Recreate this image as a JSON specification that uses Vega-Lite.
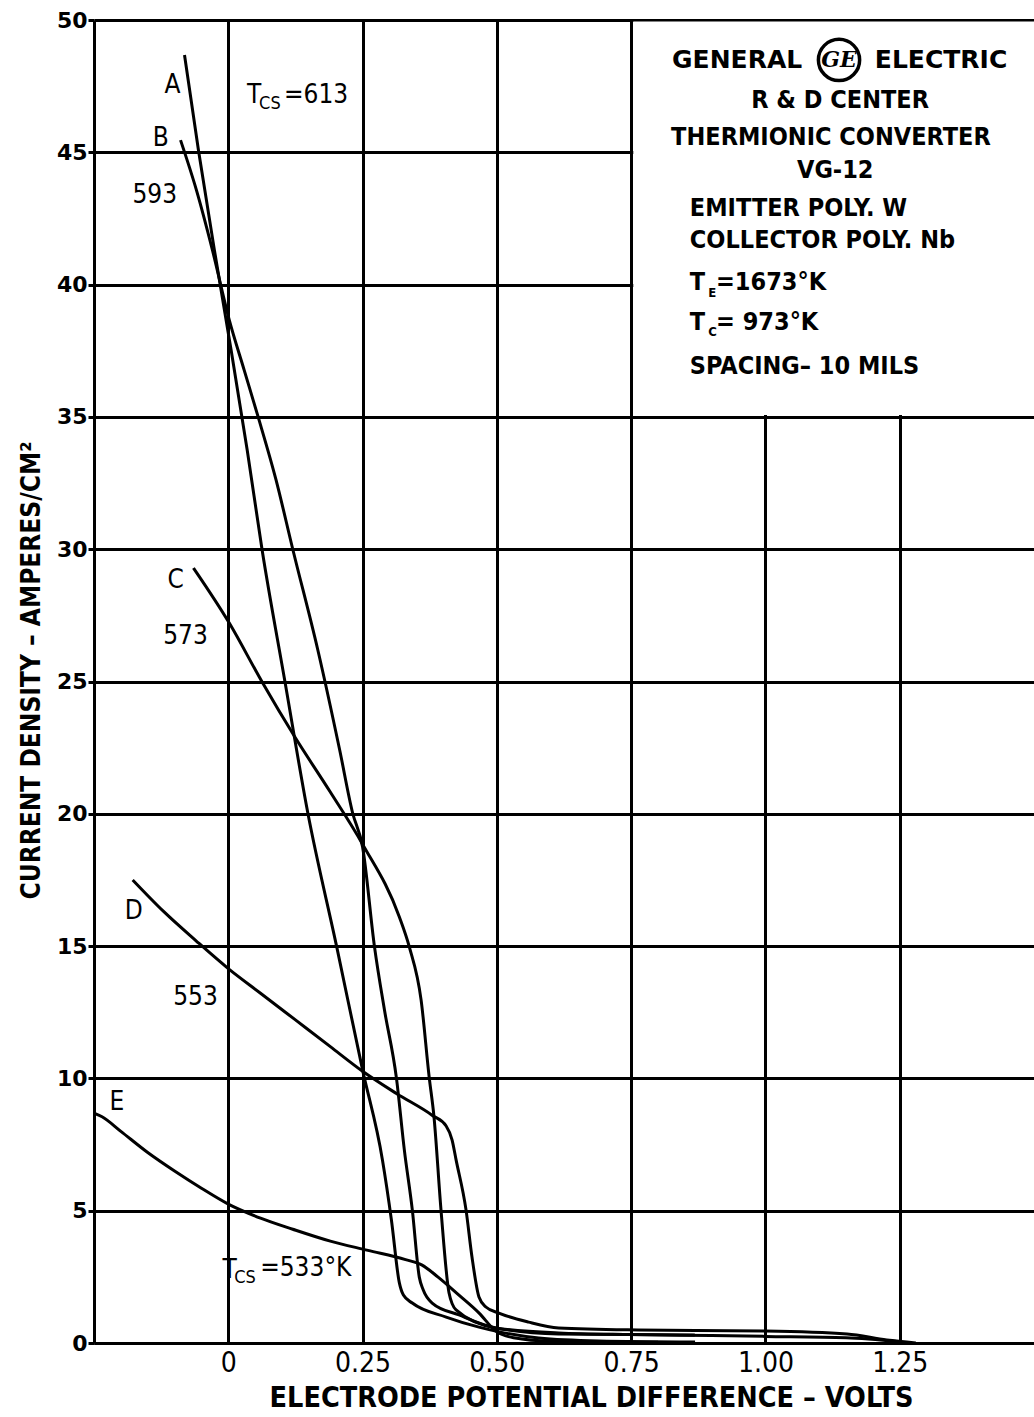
{
  "$schema": "https://vega.github.io/schema/vega-lite/v6.json",
  "width": 940,
  "height": 1323,
  "autosize": {"type": "none"},
  "padding": {"left": 94, "top": 20, "right": 0, "bottom": 74},
  "background": "white",
  "config": {"view": {"stroke": null}, "font": "DejaVu Sans Condensed"},
  "datasets": {
    "curves": [
      {"curve": "A", "v": -0.0815, "j": 48.68}, {"curve": "A", "v": -0.0556, "j": 45.09}, {"curve": "A", "v": -0.0259, "j": 41.31}, {"curve": "A", "v": 0.0037, "j": 37.72}, {"curve": "A", "v": 0.0352, "j": 33.75}, {"curve": "A", "v": 0.063, "j": 29.97}, {"curve": "A", "v": 0.1056, "j": 24.98}, {"curve": "A", "v": 0.1481, "j": 20.03}, {"curve": "A", "v": 0.2019, "j": 14.97}, {"curve": "A", "v": 0.25, "j": 10.32}, {"curve": "A", "v": 0.287, "j": 6.92}, {"curve": "A", "v": 0.3037, "j": 4.65}, {"curve": "A", "v": 0.3185, "j": 2.27}, {"curve": "A", "v": 0.326, "j": 1.81}, {"curve": "A", "v": 0.3426, "j": 1.51}, {"curve": "A", "v": 0.4056, "j": 0.98}, {"curve": "A", "v": 0.4667, "j": 0.6}, {"curve": "A", "v": 0.498, "j": 0.45}, {"curve": "A", "v": 0.578, "j": 0.19}, {"curve": "A", "v": 0.689, "j": 0.08}, {"curve": "A", "v": 0.869, "j": 0.04},
      {"curve": "B", "v": -0.0889, "j": 45.46}, {"curve": "B", "v": -0.0593, "j": 43.57}, {"curve": "B", "v": -0.0296, "j": 41.31}, {"curve": "B", "v": 0.0019, "j": 38.66}, {"curve": "B", "v": 0.0296, "j": 36.77}, {"curve": "B", "v": 0.0556, "j": 35.0}, {"curve": "B", "v": 0.0889, "j": 32.62}, {"curve": "B", "v": 0.1204, "j": 29.97}, {"curve": "B", "v": 0.1667, "j": 26.19}, {"curve": "B", "v": 0.2074, "j": 22.41}, {"curve": "B", "v": 0.2315, "j": 20.03}, {"curve": "B", "v": 0.25, "j": 18.75}, {"curve": "B", "v": 0.2722, "j": 14.97}, {"curve": "B", "v": 0.2907, "j": 12.59}, {"curve": "B", "v": 0.313, "j": 10.02}, {"curve": "B", "v": 0.3278, "j": 7.29}, {"curve": "B", "v": 0.3426, "j": 5.03}, {"curve": "B", "v": 0.3556, "j": 2.49}, {"curve": "B", "v": 0.363, "j": 2.0}, {"curve": "B", "v": 0.3796, "j": 1.51}, {"curve": "B", "v": 0.4296, "j": 1.06}, {"curve": "B", "v": 0.498, "j": 0.57}, {"curve": "B", "v": 0.6148, "j": 0.34}, {"curve": "B", "v": 0.8685, "j": 0.3},
      {"curve": "C", "v": -0.0648, "j": 29.29}, {"curve": "C", "v": 0.0019, "j": 27.21}, {"curve": "C", "v": 0.063, "j": 24.98}, {"curve": "C", "v": 0.124, "j": 22.9}, {"curve": "C", "v": 0.189, "j": 20.85}, {"curve": "C", "v": 0.25, "j": 18.85}, {"curve": "C", "v": 0.3185, "j": 16.1}, {"curve": "C", "v": 0.337, "j": 14.97}, {"curve": "C", "v": 0.359, "j": 12.96}, {"curve": "C", "v": 0.374, "j": 10.05}, {"curve": "C", "v": 0.383, "j": 8.54}, {"curve": "C", "v": 0.396, "j": 5.03}, {"curve": "C", "v": 0.411, "j": 1.89}, {"curve": "C", "v": 0.424, "j": 1.25}, {"curve": "C", "v": 0.498, "j": 0.57}, {"curve": "C", "v": 0.615, "j": 0.38}, {"curve": "C", "v": 0.75, "j": 0.32}, {"curve": "C", "v": 0.9, "j": 0.28}, {"curve": "C", "v": 1.0, "j": 0.25}, {"curve": "C", "v": 1.15, "j": 0.2}, {"curve": "C", "v": 1.25, "j": 0.05},
      {"curve": "D", "v": -0.178, "j": 17.5}, {"curve": "D", "v": -0.12, "j": 16.3}, {"curve": "D", "v": -0.06, "j": 15.2}, {"curve": "D", "v": 0.0, "j": 14.15}, {"curve": "D", "v": 0.06, "j": 13.22}, {"curve": "D", "v": 0.125, "j": 12.21}, {"curve": "D", "v": 0.19, "j": 11.2}, {"curve": "D", "v": 0.25, "j": 10.27}, {"curve": "D", "v": 0.313, "j": 9.43}, {"curve": "D", "v": 0.38, "j": 8.6}, {"curve": "D", "v": 0.4056, "j": 8.2}, {"curve": "D", "v": 0.4167, "j": 7.67}, {"curve": "D", "v": 0.4241, "j": 6.92}, {"curve": "D", "v": 0.4426, "j": 5.03}, {"curve": "D", "v": 0.4537, "j": 3.25}, {"curve": "D", "v": 0.4667, "j": 1.74}, {"curve": "D", "v": 0.4796, "j": 1.36}, {"curve": "D", "v": 0.5037, "j": 1.13}, {"curve": "D", "v": 0.559, "j": 0.79}, {"curve": "D", "v": 0.615, "j": 0.57}, {"curve": "D", "v": 0.763, "j": 0.49}, {"curve": "D", "v": 1.0, "j": 0.45}, {"curve": "D", "v": 1.152, "j": 0.34}, {"curve": "D", "v": 1.226, "j": 0.11}, {"curve": "D", "v": 1.28, "j": 0.0},
      {"curve": "E", "v": -0.25, "j": 8.69}, {"curve": "E", "v": -0.235, "j": 8.55}, {"curve": "E", "v": -0.2, "j": 8.0}, {"curve": "E", "v": -0.15, "j": 7.2}, {"curve": "E", "v": -0.1, "j": 6.5}, {"curve": "E", "v": -0.05, "j": 5.85}, {"curve": "E", "v": 0.0, "j": 5.25}, {"curve": "E", "v": 0.06, "j": 4.72}, {"curve": "E", "v": 0.12, "j": 4.3}, {"curve": "E", "v": 0.19, "j": 3.85}, {"curve": "E", "v": 0.26, "j": 3.5}, {"curve": "E", "v": 0.33, "j": 3.15}, {"curve": "E", "v": 0.36, "j": 2.95}, {"curve": "E", "v": 0.39, "j": 2.5}, {"curve": "E", "v": 0.43, "j": 1.8}, {"curve": "E", "v": 0.467, "j": 1.13}, {"curve": "E", "v": 0.498, "j": 0.45}, {"curve": "E", "v": 0.531, "j": 0.2}, {"curve": "E", "v": 0.6, "j": 0.07}, {"curve": "E", "v": 0.8, "j": 0.03}
    ],
    "curveLabels": [
      {"v": -0.1037, "j": 47.54, "t": "A"},
      {"v": -0.1259, "j": 45.54, "t": "B"},
      {"v": -0.137, "j": 43.39, "t": "593"},
      {"v": -0.0981, "j": 28.84, "t": "C"},
      {"v": -0.0796, "j": 26.72, "t": "573"},
      {"v": -0.176, "j": 16.33, "t": "D"},
      {"v": -0.0611, "j": 13.08, "t": "553"},
      {"v": -0.2074, "j": 9.11, "t": "E"}
    ],
    "tcsMain": [
      {"v": 0.035, "j": 47.16, "t": "T"},
      {"v": 0.1037, "j": 47.16, "t": "=613"},
      {"v": -0.011, "j": 2.76, "t": "T"},
      {"v": 0.0593, "j": 2.83, "t": "=533°K"}
    ],
    "tcsSub": [
      {"v": 0.0574, "j": 46.82, "t": "CS"},
      {"v": 0.0111, "j": 2.46, "t": "CS"}
    ],
    "box": [{"v": 0.754, "v2": 1.5, "j": 35.07, "j2": 49.94}],
    "boxCenter": [
      {"v": 1.139, "j": 46.98, "t": "R & D CENTER"},
      {"v": 1.122, "j": 45.58, "t": "THERMIONIC CONVERTER"},
      {"v": 1.13, "j": 44.33, "t": "VG-12"}
    ],
    "boxLeft": [
      {"v": 0.8593, "j": 42.89, "t": "EMITTER POLY. W"},
      {"v": 0.8593, "j": 41.68, "t": "COLLECTOR POLY. Nb"},
      {"v": 0.8593, "j": 40.1, "t": "T"},
      {"v": 0.908, "j": 40.1, "t": "=1673°K"},
      {"v": 0.8593, "j": 38.59, "t": "T"},
      {"v": 0.908, "j": 38.59, "t": "= 973°K"},
      {"v": 0.8593, "j": 36.92, "t": "SPACING– 10 MILS"}
    ],
    "boxSub": [
      {"v": 0.8935, "j": 39.7, "t": "E"},
      {"v": 0.8935, "j": 38.19, "t": "C"}
    ],
    "geRight": [{"v": 1.0685, "j": 48.49, "t": "GENERAL"}],
    "geLeft": [{"v": 1.2037, "j": 48.49, "t": "ELECTRIC"}],
    "geLogo": [{"v": 1.137, "j": 48.49, "t": "GE"}]
  },
  "encoding": {
    "x": {
      "field": "v", "type": "quantitative",
      "scale": {"domain": [-0.25, 1.5], "nice": false, "zero": false},
      "axis": {
        "values": [0, 0.25, 0.5, 0.75, 1, 1.25],
        "labelExpr": "datum.value == 0 ? '0' : format(datum.value, '.2f')",
        "grid": true, "gridColor": "black", "gridWidth": 3, "gridOpacity": 1,
        "domainColor": "black", "domainWidth": 3, "ticks": false,
        "labelFont": "DejaVu Sans Condensed", "labelFontSize": 28, "labelColor": "black", "labelPadding": 6, "labelFlush": false,
        "title": "ELECTRODE POTENTIAL DIFFERENCE – VOLTS",
        "titleFont": "DejaVu Sans Condensed", "titleFontWeight": "bold", "titleFontSize": 28.5, "titleColor": "black",
        "titlePadding": 6, "titleX": 497
      }
    },
    "y": {
      "field": "j", "type": "quantitative",
      "scale": {"domain": [0, 50], "nice": false, "zero": false},
      "axis": {
        "values": [0, 5, 10, 15, 20, 25, 30, 35, 40, 45, 50],
        "grid": true, "gridColor": "black", "gridWidth": 3, "gridOpacity": 1,
        "domainColor": "black", "domainWidth": 3,
        "tickSize": 6, "tickWidth": 3, "tickColor": "black",
        "labelFont": "DejaVu Sans", "labelFontWeight": "bold", "labelFontSize": 22, "labelColor": "black", "labelPadding": 1, "labelFlush": false,
        "title": "CURRENT DENSITY – AMPERES/CM²",
        "titleFont": "DejaVu Sans Condensed", "titleFontWeight": "bold", "titleFontSize": 26, "titleColor": "black",
        "titlePadding": 12, "titleY": 650
      }
    }
  },
  "layer": [
    {
      "data": {"name": "box"},
      "mark": {"type": "rect", "fill": "white", "stroke": null},
      "encoding": {"x2": {"field": "v2"}, "y2": {"field": "j2"}}
    },
    {
      "data": {"name": "curves"},
      "mark": {"type": "line", "color": "black", "strokeWidth": 3, "interpolate": "monotone"},
      "encoding": {"detail": {"field": "curve", "type": "nominal"}}
    },
    {
      "data": {"name": "curveLabels"},
      "mark": {"type": "text", "font": "DejaVu Sans Condensed", "fontSize": 26, "color": "black", "align": "center", "baseline": "middle"},
      "encoding": {"text": {"field": "t"}}
    },
    {
      "data": {"name": "tcsMain"},
      "mark": {"type": "text", "font": "DejaVu Sans Condensed", "fontSize": 26, "color": "black", "align": "left", "baseline": "middle"},
      "encoding": {"text": {"field": "t"}}
    },
    {
      "data": {"name": "tcsSub"},
      "mark": {"type": "text", "font": "DejaVu Sans Condensed", "fontSize": 18, "color": "black", "align": "left", "baseline": "middle"},
      "encoding": {"text": {"field": "t"}}
    },
    {
      "data": {"name": "boxCenter"},
      "mark": {"type": "text", "font": "DejaVu Sans Condensed", "fontWeight": "bold", "fontSize": 25, "color": "black", "align": "center", "baseline": "middle"},
      "encoding": {"text": {"field": "t"}}
    },
    {
      "data": {"name": "boxLeft"},
      "mark": {"type": "text", "font": "DejaVu Sans Condensed", "fontWeight": "bold", "fontSize": 25, "color": "black", "align": "left", "baseline": "middle"},
      "encoding": {"text": {"field": "t"}}
    },
    {
      "data": {"name": "boxSub"},
      "mark": {"type": "text", "font": "DejaVu Sans Condensed", "fontWeight": "bold", "fontSize": 13, "color": "black", "align": "left", "baseline": "middle"},
      "encoding": {"text": {"field": "t"}}
    },
    {
      "data": {"name": "geRight"},
      "mark": {"type": "text", "font": "DejaVu Sans", "fontWeight": "bold", "fontSize": 25, "color": "black", "align": "right", "baseline": "middle"},
      "encoding": {"text": {"field": "t"}}
    },
    {
      "data": {"name": "geLeft"},
      "mark": {"type": "text", "font": "DejaVu Sans", "fontWeight": "bold", "fontSize": 25, "color": "black", "align": "left", "baseline": "middle"},
      "encoding": {"text": {"field": "t"}}
    },
    {
      "data": {"name": "geLogo"},
      "mark": {"type": "point", "shape": "circle", "size": 1700, "filled": false, "stroke": "black", "strokeWidth": 3.5, "opacity": 1}
    },
    {
      "data": {"name": "geLogo"},
      "mark": {"type": "text", "font": "DejaVu Serif", "fontStyle": "italic", "fontWeight": "bold", "fontSize": 22, "color": "black", "align": "center", "baseline": "middle"},
      "encoding": {"text": {"field": "t"}}
    }
  ]
}
